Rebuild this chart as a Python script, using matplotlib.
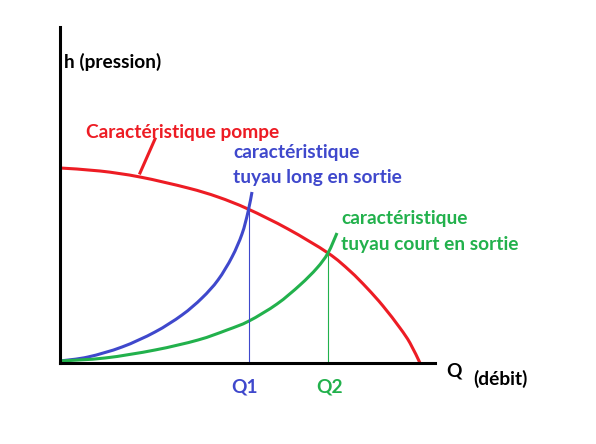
import matplotlib.pyplot as plt
from matplotlib.path import Path
from matplotlib.patches import PathPatch

# schematic values (arbitrary units)
pump_q = [0, 40, 80, 128, 158, 188, 228, 268, 290, 307, 323, 340, 350, 360]
pump_h = [195, 192, 186, 175, 166, 154, 134, 110, 92, 75, 57, 35, 20, 0]

long_q = [0, 28, 62, 95, 122, 142, 158, 172, 182, 188, 192]
long_h = [2, 6, 16, 31, 48, 65, 83, 106, 129, 151, 171]

short_q = [0, 45, 95, 138, 167, 189, 217, 240, 257, 268, 277]
short_h = [2, 5, 13, 23, 33, 42, 59, 78, 95, 110, 130]

q1, h1 = 189, 152
q2, h2 = 268, 111

RED = '#ED1C24'
BLUE = '#3F48CC'
GREEN = '#22B14C'


def smooth_curve(ax, xs, ys, color, lw=2.2):
    """Draw a smooth line through the points (Catmull-Rom as cubic Bezier)."""
    pts = list(zip(xs, ys))
    verts = [pts[0]]
    codes = [Path.MOVETO]
    n = len(pts)
    for i in range(n - 1):
        p0 = pts[max(i - 1, 0)]
        p1 = pts[i]
        p2 = pts[i + 1]
        p3 = pts[min(i + 2, n - 1)]
        c1 = (p1[0] + (p2[0] - p0[0]) / 6, p1[1] + (p2[1] - p0[1]) / 6)
        c2 = (p2[0] - (p3[0] - p1[0]) / 6, p2[1] - (p3[1] - p1[1]) / 6)
        verts += [c1, c2, p2]
        codes += [Path.CURVE4] * 3
    patch = PathPatch(Path(verts, codes), facecolor='none', edgecolor=color,
                      lw=lw, clip_on=False, capstyle='butt')
    ax.add_patch(patch)


plt.rcParams['font.family'] = ['Lato', 'DejaVu Sans']
fs = 13.8

fig = plt.figure(figsize=(5.96, 4.44), dpi=100)
ax = fig.add_axes([60 / 596, 81 / 444, 375 / 596, 336 / 444])
ax.set_xlim(0, 375)
ax.set_ylim(0, 336)
for side in ['top', 'right']:
    ax.spines[side].set_visible(False)
for side in ['left', 'bottom']:
    ax.spines[side].set_linewidth(2.2)
ax.set_xticks([])
ax.set_yticks([])

smooth_curve(ax, pump_q, pump_h, RED)
smooth_curve(ax, long_q, long_h, BLUE)
smooth_curve(ax, short_q, short_h, GREEN)

# operating points
ax.plot([q1, q1], [0, h1], color=BLUE, lw=0.8)
ax.plot([q2, q2], [0, h2], color=GREEN, lw=0.8)

# pointer to pump label
ax.plot([80, 95], [190, 224], color=RED, lw=2.2)

bold = dict(fontsize=fs, fontweight='bold', va='baseline', clip_on=False)
ax.text(4, 295, 'h (pression)', color='black', **bold)
ax.text(26, 225, 'Caractéristique pompe', color=RED, **bold)
ax.text(173, 205, 'caractéristique', color=BLUE, **bold)
ax.text(173, 180, 'tuyau long en sortie', color=BLUE, **bold)
ax.text(281, 139, 'caractéristique', color=GREEN, **bold)
ax.text(281, 113, 'tuyau court en sortie', color=GREEN, **bold)
ax.text(386, -13, 'Q', color='black', **bold)
ax.text(413, -22, '(débit)', color='black', **bold)
ax.text(q1 - 4, -29, 'Q1', color=BLUE, ha='center', **bold)
ax.text(q2 + 2, -29, 'Q2', color=GREEN, ha='center', **bold)

fig.savefig('out.png', dpi=100)
